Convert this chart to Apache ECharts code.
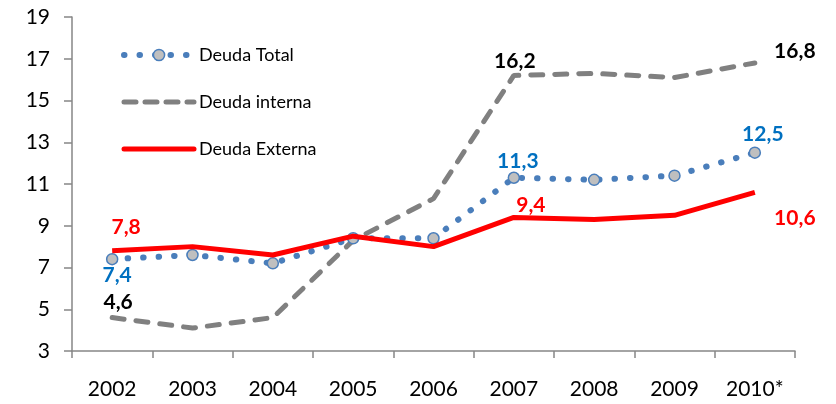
<!DOCTYPE html>
<html>
<head>
<meta charset="utf-8">
<script src="https://cdn.jsdelivr.net/npm/echarts@6/dist/echarts.min.js"></script>
<style>
  html, body { margin: 0; padding: 0; background: #fff; }
  #chart { width: 836px; height: 404px; }
</style>
</head>
<body>
<div id="chart"></div>
<script>
// --- DATA ---
const years = ['2002', '2003', '2004', '2005', '2006', '2007', '2008', '2009', '2010*'];
const deudaTotal = [7.4, 7.6, 7.2, 8.4, 8.4, 11.3, 11.2, 11.4, 12.5];
const deudaInterna = [4.6, 4.1, 4.6, 8.3, 10.3, 16.2, 16.3, 16.1, 16.8];
const deudaExterna = [7.8, 8.0, 7.6, 8.5, 8.0, 9.4, 9.3, 9.5, 10.6];
const yTicks = [3, 5, 7, 9, 11, 13, 15, 17, 19];

const FONT = 'Lato, "Open Sans", sans-serif';
const BLUE = '#4a7ebb';
const GRAY = '#808080';
const RED = '#ff0000';

const DOTS = [0.5, 15];
const DASHES = [12, 12];

// etiquetas solo en algunos puntos: indice -> estilo de la etiqueta
const labelsTotal = {
    0: { position: 'bottom', distance: -1, offset: [5, 0] },
    5: { position: 'top', distance: 0, offset: [4, 0] },
    8: { position: 'top', distance: 2, offset: [8, 0] }
};
const labelsInterna = {
    0: { position: 'top', distance: 5, offset: [6, 0] },
    5: { position: 'top', distance: 4, offset: [1, 0] },
    8: { position: 'top', distance: 1, offset: [40, 0] }
};
const labelsExterna = {
    0: { position: 'top', distance: 13, offset: [14, 0] },
    5: { position: 'top', distance: 2, offset: [17, 0] },
    8: { position: 'bottom', distance: 15, offset: [40, 0] }
};

const fmt = v => String(v.toFixed(1)).replace('.', ',');

const buildData = (values, labels, color) => values.map((v, i) => {
    const item = { value: v };
    if (labels[i]) {
        item.label = Object.assign({
            show: true,
            color: color,
            fontFamily: FONT,
            fontWeight: 'bold',
            fontSize: 21,
            formatter: p => fmt(p.value)
        }, labels[i]);
    }
    return item;
});

const chart = echarts.init(document.getElementById('chart'));

const option = {
    animation: false,
    backgroundColor: '#ffffff',
    grid: { left: 72, right: 41, top: 17, bottom: 53, containLabel: false },
    legend: {
        orient: 'vertical',
        left: 116,
        top: 41,
        itemWidth: 70,
        itemHeight: 14,
        itemGap: 29,
        textStyle: { fontFamily: FONT, fontSize: 18, color: '#000' },
        data: [
            {
                name: 'Deuda Total',
                itemStyle: { color: '#bfbfbf', borderColor: BLUE, borderWidth: 1.5 },
                lineStyle: { color: BLUE, width: 6, type: DOTS, cap: 'round' }
            },
            {
                name: 'Deuda interna',
                itemStyle: { color: 'transparent', borderWidth: 0 },
                lineStyle: { color: GRAY, width: 5, type: [12, 9], cap: 'round' }
            },
            {
                name: 'Deuda Externa',
                itemStyle: { color: 'transparent', borderWidth: 0 },
                lineStyle: { color: RED, width: 5, cap: 'round' }
            }
        ]
    },
    xAxis: {
        type: 'category',
        data: years,
        boundaryGap: true,
        axisLine: { lineStyle: { color: '#868686', width: 1.5 } },
        axisTick: { show: true, length: 7, lineStyle: { color: '#868686', width: 1.5 } },
        axisLabel: { fontFamily: FONT, fontSize: 21, color: '#000', margin: 28 },
        splitLine: { show: false }
    },
    yAxis: {
        type: 'value',
        min: yTicks[0],
        max: yTicks[yTicks.length - 1],
        interval: 2,
        axisLine: { show: true, lineStyle: { color: '#868686', width: 1.5 } },
        axisTick: { show: true, length: 8, lineStyle: { color: '#868686', width: 1.5 } },
        axisLabel: { fontFamily: FONT, fontSize: 21, color: '#000', margin: 22 },
        splitLine: { show: false }
    },
    series: [
        {
            name: 'Deuda Total',
            type: 'line',
            z: 3,
            data: buildData(deudaTotal, labelsTotal, '#0070c0'),
            symbol: 'circle',
            symbolSize: 11,
            itemStyle: { color: '#bfbfbf', borderColor: BLUE, borderWidth: 1.5 },
            lineStyle: { color: BLUE, width: 6, type: DOTS, cap: 'round' }
        },
        {
            name: 'Deuda interna',
            type: 'line',
            z: 2,
            data: buildData(deudaInterna, labelsInterna, '#000000'),
            symbol: 'circle',
            symbolSize: 0.1,
            itemStyle: { color: 'transparent', borderWidth: 0 },
            lineStyle: { color: GRAY, width: 5, type: DASHES, cap: 'round' }
        },
        {
            name: 'Deuda Externa',
            type: 'line',
            z: 4,
            data: buildData(deudaExterna, labelsExterna, RED),
            symbol: 'circle',
            symbolSize: 0.1,
            itemStyle: { color: 'transparent', borderWidth: 0 },
            lineStyle: { color: RED, width: 5 }
        }
    ]
};

chart.setOption(option);
</script>
</body>
</html>
